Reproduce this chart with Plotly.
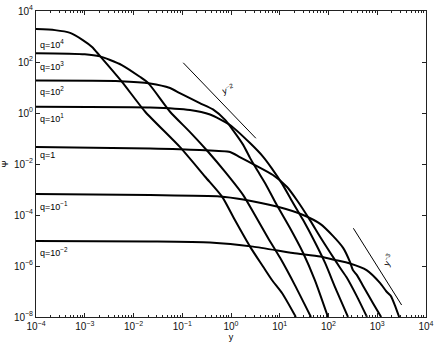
import numpy as np
import plotly.graph_objects as go

# log10(y) and log10(Psi), one pair of lists per q
q_names = ["q=10<sup>4</sup>", "q=10<sup>3</sup>", "q=10<sup>2</sup>", "q=10<sup>1</sup>",
           "q=1", "q=10<sup>−1</sup>", "q=10<sup>−2</sup>"]

ly_q4 = [-4.0, -3.61, -3.30, -3.04, -2.85, -2.69, -2.24, -1.76, -1.05, -0.53, -0.18, 0.08, 0.39, 0.66, 0.84, 1.05, 1.33]
lp_q4 = [3.29, 3.25, 3.14, 2.86, 2.59, 2.24, 1.23, 0.05, -1.33, -2.5, -3.29, -4.2, -5.24, -6.03, -6.55, -7.07, -8.0]

ly_q3 = [-4.0, -3.0, -2.69, -2.48, -2.24, -1.87, -1.70, -1.25, -0.84, -0.47, -0.12, 0.25, 0.49, 0.76, 1.01, 1.31, 1.64]
lp_q3 = [2.34, 2.30, 2.22, 2.08, 1.88, 1.42, 1.18, 0.05, -0.75, -1.52, -2.31, -3.22, -4.0, -4.9, -5.69, -6.75, -8.0]

ly_q2 = [-4.0, -2.28, -1.66, -1.25, -1.05, -0.64, -0.37, -0.12, 0.04, 0.25, 0.39, 0.53, 0.72, 0.94, 1.21, 1.48, 1.72, 1.99]
lp_q2 = [1.27, 1.25, 1.16, 0.98, 0.78, 0.39, 0.14, -0.27, -0.67, -1.25, -1.76, -2.22, -2.82, -3.61, -4.51, -5.49, -6.55, -8.0]

ly_q1 = [-4.0, -1.66, -0.84, -0.43, -0.02, 0.39, 0.66, 0.84, 1.05, 1.25, 1.48, 1.72, 1.93, 2.15, 2.40]
lp_q1 = [0.25, 0.22, 0.12, -0.06, -0.47, -1.18, -1.72, -2.18, -2.78, -3.45, -4.20, -5.06, -5.88, -6.90, -8.0]

ly_q0 = [-4.0, -1.66, -0.64, -0.02, 0.18, 0.49, 0.86, 1.15, 1.35, 1.62, 1.83, 2.04, 2.24, 2.38, 2.58, 2.79]
lp_q0 = [-1.33, -1.39, -1.45, -1.53, -1.73, -2.04, -2.43, -2.90, -3.41, -4.20, -4.86, -5.49, -6.08, -6.47, -7.18, -8.0]

ly_qm1 = [-4.0, -1.66, -0.23, 0.25, 0.94, 1.48, 1.83, 2.09, 2.30, 2.44, 2.50, 2.58, 2.71, 2.91, 3.08]
lp_qm1 = [-3.18, -3.22, -3.27, -3.39, -3.67, -4.0, -4.35, -4.82, -5.29, -5.84, -6.16, -6.35, -6.78, -7.45, -8.0]

ly_qm2 = [-4.0, -1.66, -0.43, 0.45, 1.27, 1.83, 2.13, 2.44, 2.78, 3.06, 3.18, 3.24, 3.28, 3.36, 3.45]
lp_qm2 = [-5.02, -5.04, -5.08, -5.24, -5.49, -5.63, -5.76, -5.90, -6.16, -6.67, -6.98, -7.10, -7.18, -7.53, -8.0]

# slope guides
ly_s2 = [-0.98, 0.51]
lp_s2 = [1.97, -0.99]
ly_s3 = [2.51, 3.50]
lp_s3 = [-4.52, -7.53]

# where the q labels sit (log10 Psi), left side of the plot
label_lp = [2.71, 1.84, 0.86, -0.2, -1.65, -3.65, -5.45]

x_exps = [-4, -3, -2, -1, 0, 1, 2, 3, 4]
y_exps = [-8, -6, -4, -2, 0, 2, 4]

curves = [(ly_q4, lp_q4), (ly_q3, lp_q3), (ly_q2, lp_q2), (ly_q1, lp_q1),
          (ly_q0, lp_q0), (ly_qm1, lp_qm1), (ly_qm2, lp_qm2)]


def power_label(e):
    return "10<sup>%s</sup>" % str(e).replace("-", "−")


fig = go.Figure()
for lx, lp in curves:
    fig.add_trace(go.Scatter(x=10 ** np.array(lx), y=10 ** np.array(lp), mode="lines",
                             line=dict(color="black", width=2, shape="spline", smoothing=0.6),
                             showlegend=False, hoverinfo="skip"))

for lx, lp in [(ly_s2, lp_s2), (ly_s3, lp_s3)]:
    fig.add_trace(go.Scatter(x=10 ** np.array(lx), y=10 ** np.array(lp), mode="lines",
                             line=dict(color="black", width=1), showlegend=False, hoverinfo="skip"))

font = dict(family="Liberation Sans, Arial, sans-serif", size=9, color="black")
tick_font = dict(family="Liberation Sans, Arial, sans-serif", size=10, color="#111")

for name, lp in zip(q_names, label_lp):
    fig.add_annotation(x=-3.96, y=lp, text=name, showarrow=False, xanchor="left",
                       yanchor="middle", font=font)

fig.add_annotation(x=-0.06, y=0.94, text="y<sup>−2</sup>", showarrow=False, font=font, textangle=-15)
fig.add_annotation(x=3.22, y=-5.76, text="y<sup>−3</sup>", showarrow=False, font=font, textangle=-62)

axis = dict(type="log", showgrid=False, zeroline=False, showline=True, linecolor="#222",
            linewidth=1, mirror="allticks", ticks="inside", ticklen=4, tickcolor="#222",
            tickfont=tick_font, tickmode="array", automargin=False)

fig.update_xaxes(axis, range=[-4, 4],
                 tickvals=[10.0 ** e for e in x_exps],
                 ticktext=[power_label(e) for e in x_exps],
                 minor=dict(ticks="inside", ticklen=2, tickcolor="#222", dtick="D1"),
                 title=dict(text="y", font=font, standoff=2))
fig.update_yaxes(axis, range=[-8, 4],
                 tickvals=[10.0 ** e for e in y_exps],
                 ticktext=[power_label(e) for e in y_exps],
                 title=dict(text="Ψ", font=font, standoff=4))

fig.update_layout(width=436, height=346, margin=dict(l=36, r=10, t=11, b=29),
                  plot_bgcolor="white", paper_bgcolor="white")

# the page's default body margin would push the figure 8px off
fig.write_html("out.html", config={"displayModeBar": False},
               post_script="document.body.style.margin = '0px';")
